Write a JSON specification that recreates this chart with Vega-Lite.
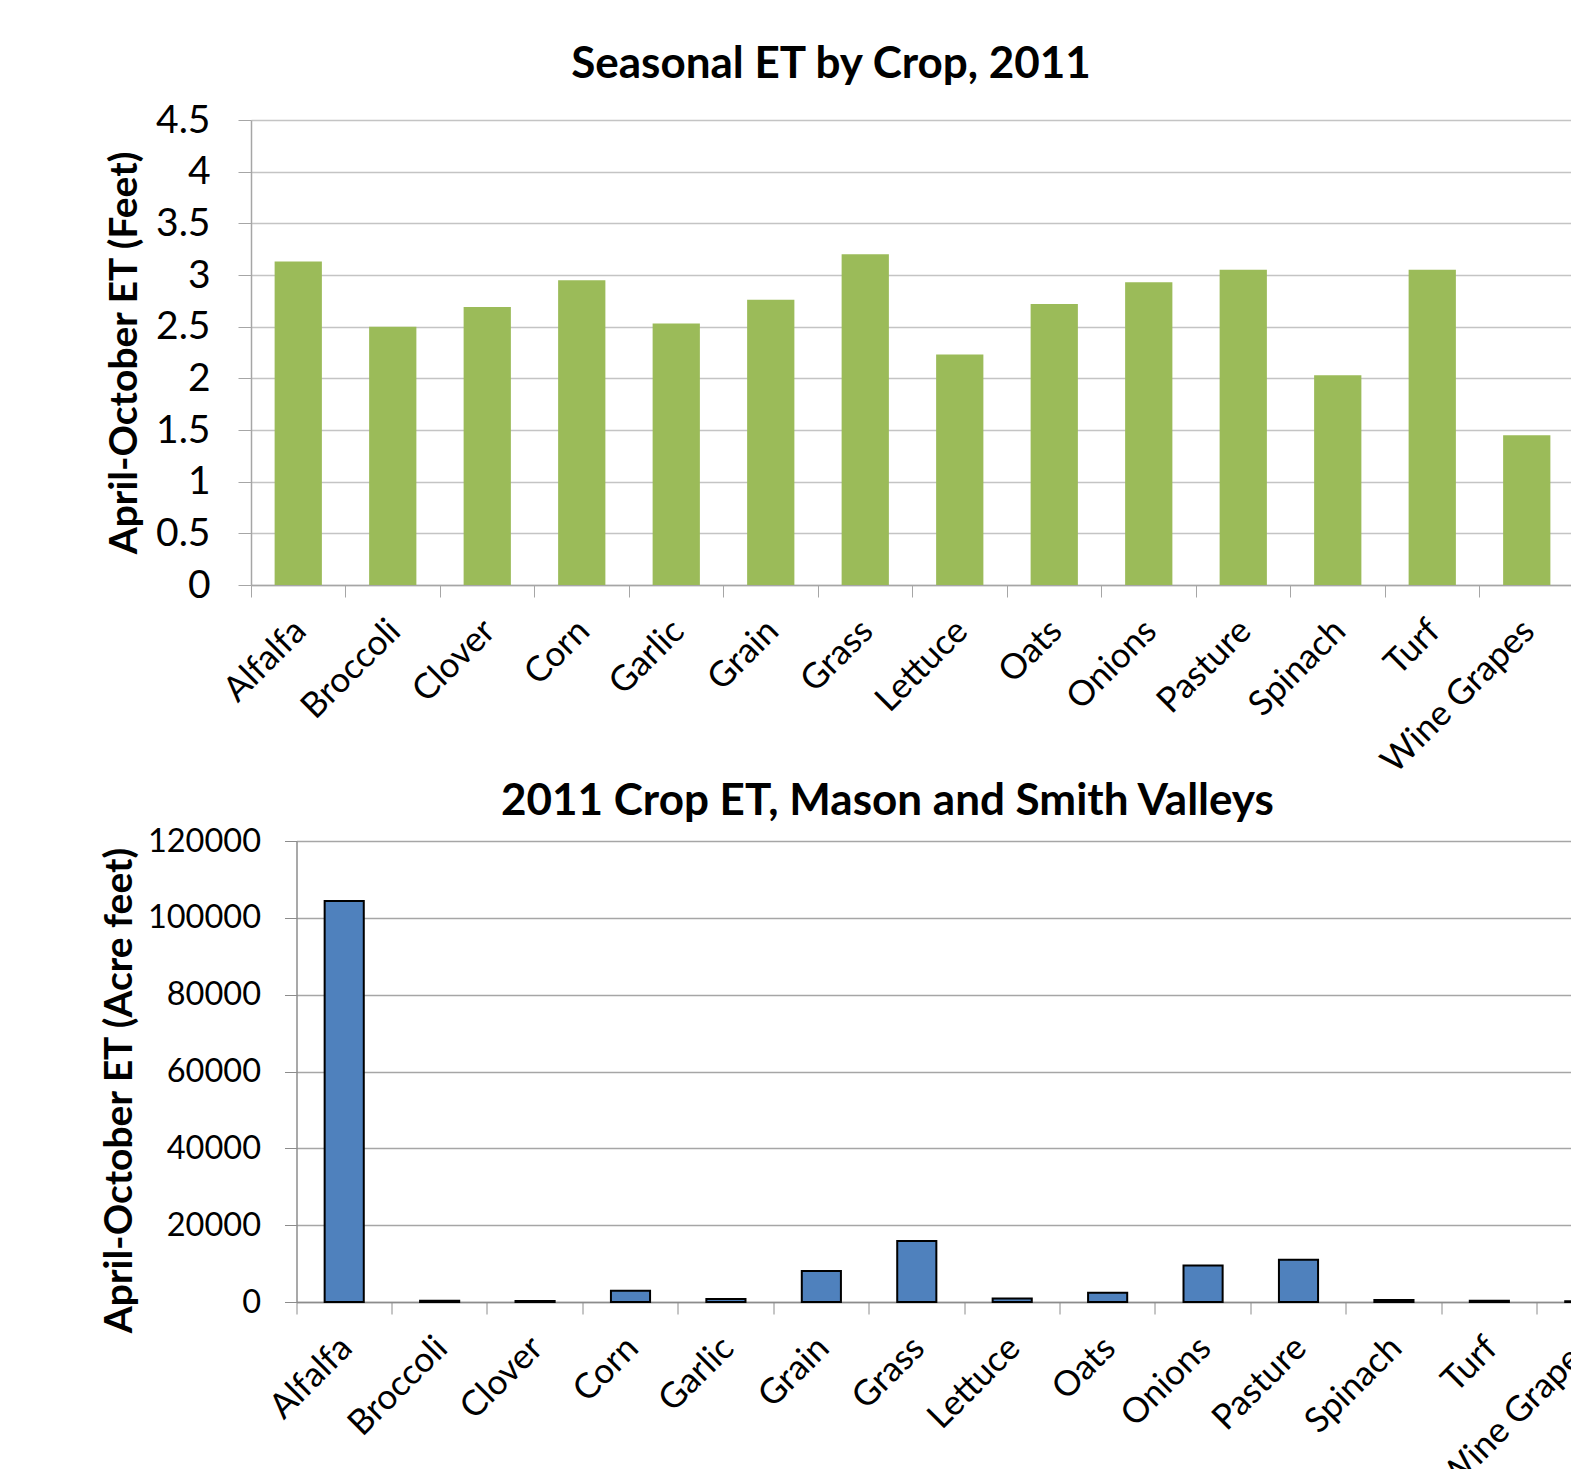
{
  "$schema": "https://vega.github.io/schema/vega-lite/v6.json",
  "padding": {"left": 100, "top": 43, "right": 0, "bottom": 0},
  "background": "white",
  "columns": 1,
  "center": true,
  "spacing": 0,
  "config": {
    "font": "Lato",
    "view": {"stroke": null},
    "axis": {"labelColor": "black", "titleColor": "black", "labelLimit": 1000},
    "title": {"color": "black", "fontWeight": "bold", "fontSize": 44}
  },
  "datasets": {
    "perAcre": [
      {"crop": "Alfalfa", "et": 3.13},
      {"crop": "Broccoli", "et": 2.50},
      {"crop": "Clover", "et": 2.69},
      {"crop": "Corn", "et": 2.95},
      {"crop": "Garlic", "et": 2.53},
      {"crop": "Grain", "et": 2.76},
      {"crop": "Grass", "et": 3.20},
      {"crop": "Lettuce", "et": 2.23},
      {"crop": "Oats", "et": 2.72},
      {"crop": "Onions", "et": 2.93},
      {"crop": "Pasture", "et": 3.05},
      {"crop": "Spinach", "et": 2.03},
      {"crop": "Turf", "et": 3.05},
      {"crop": "Wine Grapes", "et": 1.45}
    ],
    "total": [
      {"crop": "Alfalfa", "et": 104400},
      {"crop": "Broccoli", "et": 300},
      {"crop": "Clover", "et": 250},
      {"crop": "Corn", "et": 2900},
      {"crop": "Garlic", "et": 800},
      {"crop": "Grain", "et": 8100},
      {"crop": "Grass", "et": 15900},
      {"crop": "Lettuce", "et": 900},
      {"crop": "Oats", "et": 2400},
      {"crop": "Onions", "et": 9500},
      {"crop": "Pasture", "et": 11000},
      {"crop": "Spinach", "et": 500},
      {"crop": "Turf", "et": 300},
      {"crop": "Wine Grapes", "et": 200}
    ]
  },
  "concat": [
    {
      "title": {"text": "Seasonal ET by Crop, 2011", "dx": -133.5, "offset": 14},
      "width": 1427,
      "height": 465,
      "data": {"name": "perAcre"},
      "resolve": {"axis": {"x": "independent"}},
      "layer": [
        {
          "mark": {"type": "bar", "color": "#9BBB59"},
          "encoding": {
            "x": {
              "field": "crop", "type": "nominal", "sort": null,
              "scale": {"paddingInner": 0.5, "paddingOuter": 0.80026, "align": 0.1562},
              "axis": {
                "orient": "bottom", "title": null, "ticks": false, "domain": false, "grid": false,
                "labelAngle": -45, "labelFontSize": 35, "labelPadding": 28, "labelOffset": -10
              }
            },
            "y": {
              "field": "et", "type": "quantitative",
              "scale": {"domain": [0, 4.5], "nice": false},
              "axis": {
                "title": "April-October ET (Feet)", "titleFontSize": 39, "titleFontWeight": "bold",
                "titleX": -107,
                "values": [0, 0.5, 1, 1.5, 2, 2.5, 3, 3.5, 4, 4.5], "format": "~g",
                "labelFontSize": 39, "labelPadding": 28, "tickSize": 13,
                "tickColor": "#a6a6a6", "domainColor": "#a6a6a6", "domainWidth": 1.5,
                "gridColor": "#c4c4c4", "gridWidth": 1.3
              }
            }
          }
        },
        {
          "mark": {"type": "point", "opacity": 0},
          "encoding": {
            "x": {
              "field": "crop", "type": "nominal", "sort": null,
              "axis": {
                "orient": "bottom", "title": null, "labels": false, "grid": false,
                "bandPosition": -0.5, "tickSize": 12, "tickColor": "#a6a6a6",
                "domainColor": "#a6a6a6", "domainWidth": 1.5
              }
            }
          }
        }
      ]
    },
    {
      "title": {"text": "2011 Crop ET, Mason and Smith Valleys", "dx": -77, "offset": 1},
      "width": 1336,
      "height": 461,
      "data": {"name": "total"},
      "resolve": {"axis": {"x": "independent"}},
      "layer": [
        {
          "mark": {"type": "bar", "color": "#4F81BD", "stroke": "black", "strokeWidth": 2},
          "encoding": {
            "x": {
              "field": "crop", "type": "nominal", "sort": null,
              "scale": {"paddingInner": 0.59, "paddingOuter": 0.295},
              "axis": {
                "orient": "bottom", "title": null, "ticks": false, "domain": false, "grid": false,
                "labelAngle": -45, "labelFontSize": 35, "labelPadding": 28, "labelOffset": -10
              }
            },
            "y": {
              "field": "et", "type": "quantitative",
              "scale": {"domain": [0, 120000], "nice": false},
              "axis": {
                "title": "April-October ET (Acre feet)", "titleFontSize": 39, "titleFontWeight": "bold",
                "titleX": -157, "titleY": 249,
                "values": [0, 20000, 40000, 60000, 80000, 100000, 120000], "format": "d",
                "labelFontSize": 32.5, "labelPadding": 24, "tickSize": 12,
                "tickColor": "#8c8c8c", "domainColor": "#8c8c8c", "domainWidth": 1.5,
                "gridColor": "#a6a6a6", "gridWidth": 1.3
              }
            }
          }
        },
        {
          "mark": {"type": "point", "opacity": 0},
          "encoding": {
            "x": {
              "field": "crop", "type": "nominal", "sort": null,
              "axis": {
                "orient": "bottom", "title": null, "labels": false, "grid": false,
                "bandPosition": -0.7195, "tickSize": 12, "tickColor": "#8c8c8c",
                "domainColor": "#8c8c8c", "domainWidth": 1.5
              }
            }
          }
        }
      ]
    }
  ]
}
